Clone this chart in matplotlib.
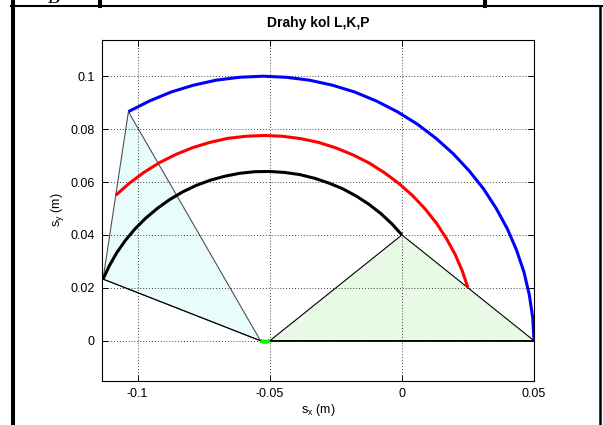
import matplotlib
matplotlib.use("Agg")
import matplotlib.pyplot as plt
from matplotlib.patches import Polygon
from matplotlib.lines import Line2D

plt.rcParams['font.family'] = ['Liberation Sans', 'DejaVu Sans']

# wheel paths (m)
blue_x = [-0.1035, -0.0956, -0.0874, -0.0789, -0.0703, -0.0615, -0.0526, -0.0438,
          -0.0350, -0.0263, -0.0178, -0.0096, -0.0018, 0.0058, 0.0128, 0.0194,
          0.0254, 0.0309, 0.0357, 0.0399, 0.0434, 0.0462, 0.0482, 0.0495, 0.0500]
blue_y = [0.0866, 0.0906, 0.0940, 0.0966, 0.0985, 0.0996, 0.1000, 0.0996,
          0.0985, 0.0966, 0.0940, 0.0906, 0.0866, 0.0819, 0.0766, 0.0707,
          0.0643, 0.0574, 0.0500, 0.0423, 0.0342, 0.0259, 0.0174, 0.0087, 0.0000]

red_x = [-0.1083, -0.1032, -0.0977, -0.0918, -0.0856, -0.0792, -0.0726, -0.0659,
         -0.0590, -0.0521, -0.0452, -0.0383, -0.0316, -0.0250, -0.0186, -0.0124,
         -0.0066, -0.0011, 0.0041, 0.0088, 0.0131, 0.0168, 0.0201, 0.0228, 0.0250]
red_y = [0.0550, 0.0595, 0.0636, 0.0673, 0.0704, 0.0730, 0.0750, 0.0765,
         0.0773, 0.0776, 0.0773, 0.0764, 0.0750, 0.0729, 0.0703, 0.0672,
         0.0635, 0.0594, 0.0548, 0.0498, 0.0444, 0.0387, 0.0327, 0.0265, 0.0200]

black_x = [-0.1131, -0.1107, -0.1079, -0.1046, -0.1010, -0.0970, -0.0926, -0.0880,
           -0.0831, -0.0779, -0.0725, -0.0670, -0.0614, -0.0557, -0.0500, -0.0442,
           -0.0386, -0.0330, -0.0276, -0.0223, -0.0173, -0.0125, -0.0080, -0.0038, 0.0000]
black_y = [0.0233, 0.0284, 0.0333, 0.0380, 0.0423, 0.0463, 0.0500, 0.0533,
           0.0562, 0.0587, 0.0607, 0.0622, 0.0633, 0.0639, 0.0640, 0.0636,
           0.0628, 0.0614, 0.0596, 0.0574, 0.0547, 0.0516, 0.0481, 0.0442, 0.0400]

green_x = [-0.0535, -0.0526, -0.0517, -0.0509, -0.0500]
green_y = [0.0000, -0.0003, -0.0004, -0.0003, 0.0000]

# triangle at start and end position
tri_start_x = [-0.0535, -0.1131, -0.1035]
tri_start_y = [0.0000, 0.0233, 0.0866]
tri_end_x = [-0.0500, 0.0000, 0.0500]
tri_end_y = [0.0000, 0.0400, 0.0000]

xticks = [-0.1, -0.05, 0, 0.05]
xtick_labels = ['-0.1', '-0.05', '0', '0.05']
yticks = [0, 0.02, 0.04, 0.06, 0.08, 0.1]
ytick_labels = ['0', '0.02', '0.04', '0.06', '0.08', '0.1']

fig = plt.figure(figsize=(6.03, 4.25), dpi=100)
ax = fig.add_axes([0.1687, 0.1042, 0.7174, 0.8024])

ax.add_patch(Polygon(list(zip(tri_start_x, tri_start_y)), closed=True,
                     facecolor='#e8fcfc', edgecolor='#505050', lw=0.8, zorder=1))
ax.plot([tri_start_x[0], tri_start_x[1]], [tri_start_y[0], tri_start_y[1]],
        color='k', lw=0.8, zorder=1.2)
ax.add_patch(Polygon(list(zip(tri_end_x, tri_end_y)), closed=True,
                     facecolor='#e8f9e6', edgecolor='k', lw=0.8, zorder=1))
ax.plot([tri_end_x[0], tri_end_x[2]], [tri_end_y[0], tri_end_y[2]],
        color='k', lw=1.2, zorder=1.2)

ax.plot(blue_x, blue_y, color='#0000ff', lw=2.2, zorder=3, solid_capstyle='butt')
ax.plot(red_x, red_y, color='#ff0000', lw=2.2, zorder=3, solid_capstyle='butt')
ax.plot(black_x, black_y, color='k', lw=2.2, zorder=3, solid_capstyle='butt')
ax.plot(green_x, green_y, color='#00ff00', lw=3.0, zorder=3, solid_capstyle='butt')

ax.set_xlim(-0.1136, 0.0501)
ax.set_ylim(-0.0151, 0.1138)
ax.set_xticks(xticks)
ax.set_xticklabels(xtick_labels)
ax.set_yticks(yticks)
ax.set_yticklabels(ytick_labels)
ax.tick_params(direction='in', length=4, width=0.7, top=True, right=True,
               labelsize=9, pad=5, colors='k')
ax.set_axisbelow('line')
ax.grid(True, color='k', linestyle=(0, (1, 2.5)), lw=0.6)
for s in ax.spines.values():
    s.set_linewidth(0.8)

ax.set_title('Drahy kol L,K,P', fontsize=10, fontweight='bold', pad=9)
ax.set_xlabel('s$_\\mathregular{x}$ (m)', fontsize=9, labelpad=2)
ax.set_ylabel('s$_\\mathregular{y}$ (m)', fontsize=9, labelpad=3)

# frame of the surrounding document table
fig.add_artist(Line2D([0.0221, 0.0221], [0, 1], color='k', lw=2.9,
                      transform=fig.transFigure))
fig.add_artist(Line2D([0.018, 1.0], [0.9864, 0.9864], color='k', lw=1.5,
                      transform=fig.transFigure))
fig.add_artist(Line2D([0.1658, 0.1658], [0.9864, 1.0], color='k', lw=2.9,
                      transform=fig.transFigure))
fig.add_artist(Line2D([0.8043, 0.8043], [0.9864, 1.0], color='k', lw=2.9,
                      transform=fig.transFigure))
fig.add_artist(Line2D([0.9955, 0.9955], [0, 0.9864], color='k', lw=1.8,
                      transform=fig.transFigure))
fig.text(0.08, 0.993, 'B', fontsize=14, style='italic',
         family='Liberation Serif', va='baseline')

fig.savefig('out.png', dpi=100)
